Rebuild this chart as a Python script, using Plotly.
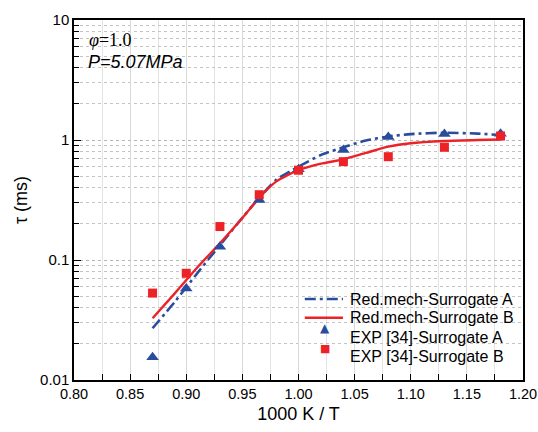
import plotly.graph_objects as go

# Model curves
line_x = [0.87, 0.89, 0.91, 0.93, 0.95, 0.965, 0.98, 1.00, 1.02, 1.04, 1.06, 1.08, 1.10, 1.13, 1.16, 1.18]
line_a = [0.027, 0.045, 0.078, 0.133, 0.225, 0.330, 0.465, 0.600, 0.750, 0.870, 0.990, 1.070, 1.120, 1.150, 1.130, 1.100]
line_b = [0.0327, 0.053, 0.087, 0.138, 0.224, 0.330, 0.450, 0.560, 0.635, 0.690, 0.780, 0.880, 0.940, 0.980, 1.000, 1.010]

# Experimental points
exp_x = [0.87, 0.90, 0.93, 0.965, 1.00, 1.04, 1.08, 1.13, 1.18]
exp_a = [0.0155, 0.058, 0.129, 0.316, 0.57, 0.826, 1.06, 1.12, 1.13]
exp_b = [0.053, 0.0775, 0.19, 0.35, 0.56, 0.66, 0.726, 0.87, 1.08]

names = ["Red.mech-Surrogate A", "Red.mech-Surrogate B", "EXP [34]-Surrogate A", "EXP [34]-Surrogate B"]
x_ticks = [0.80, 0.85, 0.90, 0.95, 1.00, 1.05, 1.10, 1.15, 1.20]
x_ticktext = ["0.80", "0.85", "0.90", "0.95", "1.00", "1.05", "1.10", "1.15", "1.20"]
y_ticks = [0.01, 0.1, 1, 10]
y_ticktext = ["0.01", "0.1", "1", "10"]

BLUE = "#2a4c9e"
RED = "#ec2227"
DASH = "11px,4px,3px,4px"

fig = go.Figure()
fig.add_trace(go.Scatter(x=line_x, y=line_a, mode="lines", name=names[0],
                         line=dict(color=BLUE, width=2.6, dash=DASH, shape="spline", smoothing=0.6)))
fig.add_trace(go.Scatter(x=line_x, y=line_b, mode="lines", name=names[1],
                         line=dict(color=RED, width=2.4, shape="spline", smoothing=0.6)))
fig.add_trace(go.Scatter(x=exp_x, y=exp_a, mode="markers", name=names[2],
                         marker=dict(symbol="triangle-up", size=11, color=BLUE)))
fig.add_trace(go.Scatter(x=exp_x, y=exp_b, mode="markers", name=names[3],
                         marker=dict(symbol="square", size=9, color=RED)))

minor_y = []
for d in [0.01, 0.1, 1]:
    for k in range(2, 10):
        minor_y.append(d * k)

fig.update_layout(
    width=538, height=432,
    margin=dict(l=74, r=15, t=20, b=52, autoexpand=False),
    paper_bgcolor="white", plot_bgcolor="white",
    font=dict(family="Liberation Sans, Arial, sans-serif", size=15, color="black"),
    showlegend=False,
)

# Annotations (condition labels)
fig.add_annotation(text="<i>φ</i>=1.0", x=0.028, y=0.944, xref="paper", yref="paper",
                   xanchor="left", yanchor="middle", showarrow=False,
                   font=dict(family="Liberation Serif, Times New Roman, serif", size=18))
fig.add_annotation(text="<i>P=5.07MPa</i>", x=0.026, y=0.883, xref="paper", yref="paper",
                   xanchor="left", yanchor="middle", showarrow=False,
                   font=dict(family="Liberation Sans, Arial, sans-serif", size=18))

# Legend drawn in the plot area (compact spacing like the reference)
leg_y = [0.225, 0.173, 0.119, 0.065]
leg_text_x = 0.610
leg_line = (0.514, 0.599)
leg_mark_x = 0.559
fig.add_shape(type="line", xref="paper", yref="paper", x0=leg_line[0], x1=leg_line[1],
              y0=leg_y[0], y1=leg_y[0], line=dict(color=BLUE, width=2.6, dash=DASH))
fig.add_shape(type="line", xref="paper", yref="paper", x0=leg_line[0], x1=leg_line[1],
              y0=leg_y[1], y1=leg_y[1], line=dict(color=RED, width=2.4))
fig.add_annotation(text="▲", x=leg_mark_x, y=leg_y[2], xref="paper", yref="paper",
                   showarrow=False, font=dict(color=BLUE, size=12, family="DejaVu Sans"))
fig.add_annotation(text="■", x=leg_mark_x, y=leg_y[3], xref="paper", yref="paper",
                   showarrow=False, font=dict(color=RED, size=11, family="DejaVu Sans"))
for name, yy in zip(names, leg_y):
    fig.add_annotation(text=name, x=leg_text_x, y=yy, xref="paper", yref="paper",
                       xanchor="left", yanchor="middle", showarrow=False,
                       font=dict(size=16))

fig.update_xaxes(
    automargin=False, ticklabeloverflow="allow",
    range=[0.80, 1.20], tickmode="array", tickvals=x_ticks, ticktext=x_ticktext,
    tickfont=dict(size=14.5),
    title=dict(text="1000 K / T", font=dict(size=18), standoff=6),
    showline=True, linecolor="black", linewidth=1.5, mirror=True,
    ticks="inside", ticklen=6, tickcolor="black", tickwidth=1.2,
    showgrid=True, gridcolor="#d9d9d9", gridwidth=1,
    minor=dict(dtick=0.025, tick0=0.8, ticks="inside", ticklen=6, tickcolor="black",
               showgrid=True, gridcolor="#e3e3e3", gridwidth=1),
    zeroline=False,
)
fig.update_yaxes(
    automargin=False,
    type="log", range=[-2, 1], tickvals=y_ticks, ticktext=y_ticktext,
    title=dict(text="τ (ms)", font=dict(size=18), standoff=8),
    showline=True, linecolor="black", linewidth=1.5, mirror=True,
    ticks="inside", ticklen=7, tickcolor="black", tickwidth=1.2,
    showgrid=True, gridcolor="#b5b5b5", gridwidth=1, griddash="dot",
    minor=dict(tickvals=minor_y, ticks="inside", ticklen=5, tickcolor="black",
               showgrid=True, gridcolor="#c4c4c4", gridwidth=1, griddash="dot"),
    zeroline=False,
)

# remove the default 8px page margin so the 538x432 figure fills the window exactly
fig.write_html("out.html", config={"displayModeBar": False},
               post_script="document.body.style.margin='0';document.body.style.overflow='hidden';")
